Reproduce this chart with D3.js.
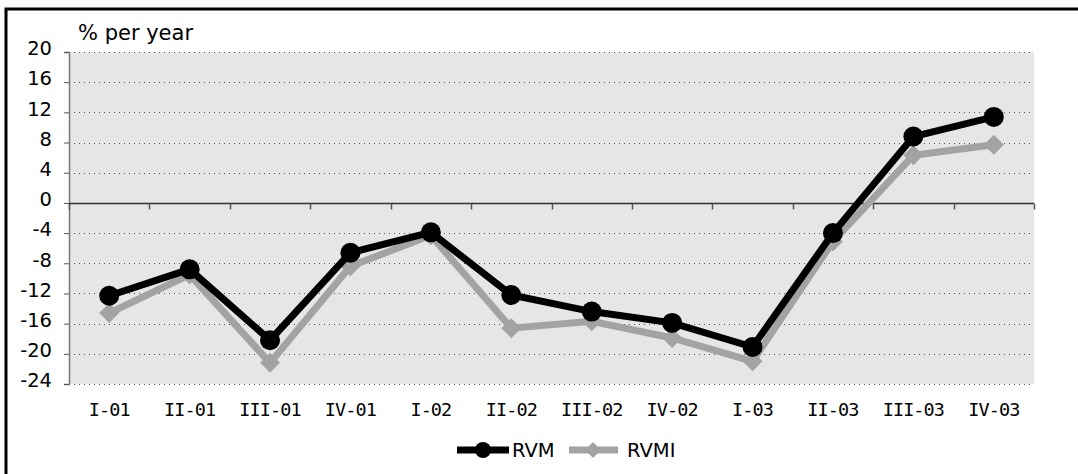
<!DOCTYPE html>
<html>
<head>
<meta charset="utf-8">
<script src="https://cdn.jsdelivr.net/npm/d3@7"></script>
<style>
  html, body { margin: 0; padding: 0; background: #fff; }
  svg { display: block; }
</style>
</head>
<body>
<svg id="chart" width="1078" height="474"></svg>
<script>
// Quarterly growth, % per year
const quarters = ["I-01", "II-01", "III-01", "IV-01", "I-02", "II-02", "III-02", "IV-02", "I-03", "II-03", "III-03", "IV-03"];
const rvm  = [-12.3, -8.8, -18.2, -6.6, -3.9, -12.2, -14.4, -15.9, -19.1, -4.0, 8.8, 11.4];
const rvmi = [-14.6, -9.5, -21.2, -8.4, -4.3, -16.6, -15.7, -17.9, -21.0, -5.1, 6.3, 7.7];
const yTicks = [20, 16, 12, 8, 4, 0, -4, -8, -12, -16, -20, -24];
const unitLabel = "% per year";

const svg = d3.select("#chart");
const plotL = 69, plotR = 1034, plotT = 52, plotB = 384;
const sans = "'DejaVu Sans', Verdana, sans-serif";

// outer frame (open on right and bottom)
svg.append("path")
  .attr("d", `M6,474 V9 H1078`)
  .attr("fill", "none").attr("stroke", "#000").attr("stroke-width", 3);

const x = d3.scaleBand().domain(quarters).range([plotL, plotR]).paddingInner(0).paddingOuter(0);
const y = d3.scaleLinear().domain([-24, 20]).range([plotB, plotT]);

// plot background
svg.append("rect")
  .attr("x", plotL).attr("y", plotT)
  .attr("width", plotR - plotL).attr("height", plotB - plotT)
  .attr("fill", "#e6e6e6");

// dotted gridlines
svg.append("g").selectAll("line")
  .data(yTicks.filter(d => d !== 0))
  .join("line")
  .attr("x1", plotL).attr("x2", plotR)
  .attr("y1", d => Math.round(y(d)) + 0.5).attr("y2", d => Math.round(y(d)) + 0.5)
  .attr("stroke", "#555").attr("stroke-width", 1)
  .attr("stroke-dasharray", "1,4");

// y axis
const yAxis = d3.axisLeft(y).tickValues(yTicks).tickSize(5).tickPadding(12).tickFormat(d => String(d));
const gy = svg.append("g").attr("transform", `translate(${plotL},0)`).call(yAxis);
gy.select(".domain").attr("stroke", "#777").attr("stroke-width", 1.5);
gy.selectAll(".tick line").attr("stroke", "#555");
gy.selectAll(".tick text")
  .attr("font-family", sans)
  .attr("font-size", 19.5).attr("fill", "#000")
  .attr("dy", "0.14em");

// zero line with category boundary ticks
const zeroY = Math.round(y(0)) + 0.5;
svg.append("line")
  .attr("x1", plotL).attr("x2", plotR)
  .attr("y1", zeroY).attr("y2", zeroY)
  .attr("stroke", "#333").attr("stroke-width", 1.5);
const bounds = quarters.map(q => x(q)).concat([plotR]);
svg.append("g").selectAll("line")
  .data(bounds)
  .join("line")
  .attr("x1", d => Math.round(d) + 0.5).attr("x2", d => Math.round(d) + 0.5)
  .attr("y1", zeroY).attr("y2", zeroY + 6)
  .attr("stroke", "#555").attr("stroke-width", 1.5);

// category labels
svg.append("g").selectAll("text")
  .data(quarters)
  .join("text")
  .attr("x", d => x(d) + x.bandwidth() / 2)
  .attr("y", 416)
  .attr("text-anchor", "middle")
  .attr("font-family", "'DejaVu Sans Mono', monospace")
  .attr("font-size", 18.5)
  .attr("letter-spacing", -0.9)
  .attr("fill", "#000")
  .text(d => d);

// unit label
svg.append("text")
  .attr("x", 78).attr("y", 40)
  .attr("font-family", sans)
  .attr("font-size", 21).attr("fill", "#000")
  .text(unitLabel);

const cx = (d, i) => x(quarters[i]) + x.bandwidth() / 2;
const line = d3.line().x(cx).y(d => y(d));

const grey = "#a3a3a3";
const square = d3.symbol().type(d3.symbolSquare);

// RVMI series (grey, diamonds)
svg.append("path").datum(rvmi)
  .attr("d", line).attr("fill", "none")
  .attr("stroke", grey).attr("stroke-width", 7).attr("stroke-linejoin", "miter");
svg.append("g").selectAll("path")
  .data(rvmi)
  .join("path")
  .attr("d", square.size(200)())
  .attr("transform", (d, i) => `translate(${cx(d, i)},${y(d)}) rotate(45)`)
  .attr("fill", grey);

// RVM series (black, circles)
svg.append("path").datum(rvm)
  .attr("d", line).attr("fill", "none")
  .attr("stroke", "#000").attr("stroke-width", 7).attr("stroke-linejoin", "miter");
svg.append("g").selectAll("circle")
  .data(rvm)
  .join("circle")
  .attr("cx", cx).attr("cy", d => y(d))
  .attr("r", 10).attr("fill", "#000");

// legend
const legend = svg.append("g").attr("font-family", sans).attr("font-size", 19.5);
const ly = 450;
legend.append("line").attr("x1", 457).attr("x2", 509).attr("y1", ly).attr("y2", ly)
  .attr("stroke", "#000").attr("stroke-width", 7);
legend.append("circle").attr("cx", 483).attr("cy", ly).attr("r", 8).attr("fill", "#000");
legend.append("text").attr("x", 512).attr("y", 457).text("RVM");
legend.append("line").attr("x1", 569).attr("x2", 618).attr("y1", ly).attr("y2", ly)
  .attr("stroke", grey).attr("stroke-width", 7);
legend.append("path").attr("d", square.size(128)())
  .attr("transform", `translate(593,${ly}) rotate(45)`).attr("fill", grey);
legend.append("text").attr("x", 627).attr("y", 457).text("RVMI");
</script>
</body>
</html>
